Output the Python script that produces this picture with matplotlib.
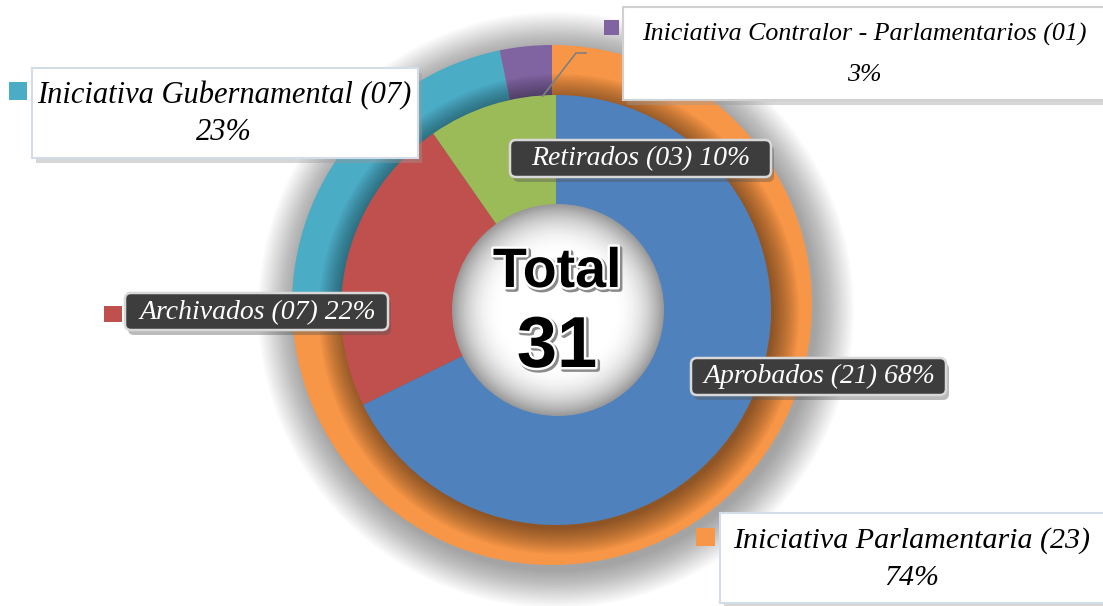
import numpy as np
import matplotlib
matplotlib.use("Agg")
import matplotlib.pyplot as plt
import matplotlib.patheffects as pe
from matplotlib.patches import Circle, Rectangle, FancyBboxPatch

W, H = 1103, 606

# anillo exterior: origen de la iniciativa
origen = ["Iniciativa Parlamentaria", "Iniciativa Gubernamental",
          "Iniciativa Contralor - Parlamentarios"]
origen_n = [23, 7, 1]
origen_pct = [74, 23, 3]
origen_col = ["#F79646", "#4BACC6", "#8064A2"]

# anillo interior: estado
estado = ["Aprobados", "Archivados", "Retirados"]
estado_n = [21, 7, 3]
estado_pct = [68, 22, 10]
estado_col = ["#4F81BD", "#C0504D", "#9BBB59"]

total = sum(estado_n)


def Y(y):
    # coordenadas de pixel (origen arriba) -> datos
    return H - y


fig = plt.figure(figsize=(W / 100, H / 100), dpi=100)
ax = fig.add_axes([0, 0, 1, 1])

c_out = (552, Y(305))
c_in = (556, Y(310))
r_out, r_in, r_hole = 260, 215, 106

# sombra difusa alrededor del anillo exterior
for r in np.linspace(298, 261, 25):
    ax.add_patch(Circle((c_out[0] + 4, c_out[1] - 5), r, color="k",
                        alpha=0.016, lw=0, zorder=1))

wedges_out, _ = ax.pie(origen_n, colors=origen_col, startangle=90,
                       counterclock=False, radius=r_out, center=c_out,
                       wedgeprops=dict(width=70, linewidth=0),
                       frame=True)
for w in wedges_out:
    w.set_zorder(2)

# sombra del anillo interior sobre el exterior
for r in np.linspace(240, 215, 14):
    ax.add_patch(Circle((c_in[0] + 3, c_in[1] - 4), r, color="k",
                        alpha=0.035, lw=0, zorder=3))

wedges_in, _ = ax.pie(estado_n, colors=estado_col, startangle=90,
                      counterclock=False, radius=r_in, center=c_in,
                      wedgeprops=dict(width=r_in - r_hole + 5, linewidth=0),
                      frame=True)
for w in wedges_in:
    w.set_zorder(4)

# hueco central con degradado
steps = 40
for i, r in enumerate(np.linspace(r_hole, 55, steps)):
    t = i / (steps - 1)
    g = 1 - 0.4 * (1 - t) ** 2.2
    ax.add_patch(Circle((558, Y(310)), r, color=(g, g, g), lw=0, zorder=5))

total_fx = [pe.Stroke(offset=(1.5, -1.5), linewidth=4, foreground="#8a8a8a"),
            pe.Stroke(linewidth=3.5, foreground="white"), pe.Normal()]
ax.text(557, Y(287), "Total", fontsize=40, weight="bold",
        family="Liberation Sans", ha="center", va="baseline", zorder=6,
        path_effects=total_fx)
ax.text(557, Y(367), str(total), fontsize=52, weight="bold",
        family="Liberation Sans", ha="center", va="baseline", zorder=6,
        path_effects=total_fx)

# linea guia de la porcion morada
frac = np.cumsum(origen_n) / total
mid = 90 - 360 * (frac[1] + frac[2]) / 2
r_lead = r_out - 50
x0 = c_out[0] + r_lead * np.cos(np.radians(mid)) + 12
y0 = c_out[1] + r_lead * np.sin(np.radians(mid))
ax.plot([x0, 576, 586], [y0, Y(53), Y(53)], color="#7f7f7f", lw=1.2,
        zorder=6)

serif = "Liberation Serif"


def caja_ext(x0, y0, x1, y1, ec):
    ax.add_patch(Rectangle((x0 + 4, Y(y1) - 5), x1 - x0, y1 - y0,
                           color="#9a9a9a", alpha=0.4, lw=0, zorder=7))
    ax.add_patch(Rectangle((x0, Y(y1)), x1 - x0, y1 - y0, fc="white",
                           ec=ec, lw=1.5, zorder=8))


def marca(x0, y0, x1, y1, col):
    ax.add_patch(Rectangle((x0, Y(y1)), x1 - x0, y1 - y0, color=col,
                           lw=0, zorder=8))


# etiquetas del anillo exterior
ext = [
    # (indice, caja, marca, centro x, base linea 1, base linea 2, tamaño, borde)
    (1, (32, 68, 418, 158), (9, 82, 27, 100), 224, 103, 140, 22, "#d3dde9"),
    (2, (623, 7, 1110, 100), (604, 20, 619, 35), 864, 41, 81, 18.6, "#d0d0d0"),
    (0, (720, 513, 1110, 603), (696, 528, 715, 546), 912, 548, 585, 21.6, "#d3dde9"),
]
for i, box, mk, cx, b1, b2, fs, ec in ext:
    caja_ext(*box, ec)
    marca(*mk, origen_col[i])
    ax.text(cx, Y(b1), f"{origen[i]} ({origen_n[i]:02d})", fontsize=fs,
            family=serif, style="italic", ha="center", va="baseline",
            zorder=9)
    ax.text(cx, Y(b2), f"{origen_pct[i]}%", fontsize=fs, family=serif,
            style="italic", ha="center", va="baseline", zorder=9)

# etiquetas del anillo interior
inn = [
    (0, (691, 358, 946, 395), 819, 383),
    (1, (125, 293, 388, 330), 258, 319),
    (2, (510, 140, 771, 177), 641, 165),
]
for i, (x0, y0, x1, y1), cx, base in inn:
    ax.add_patch(FancyBboxPatch((x0 + 3, Y(y1) - 5), x1 - x0, y1 - y0,
                                boxstyle="round,pad=0,rounding_size=6",
                                fc="#555555", alpha=0.4, lw=0, zorder=7))
    ax.add_patch(FancyBboxPatch((x0, Y(y1)), x1 - x0, y1 - y0,
                                boxstyle="round,pad=0,rounding_size=6",
                                fc="#3d3d3d", ec="#d8d8d8", lw=1.8, zorder=8))
    ax.text(cx, Y(base), f"{estado[i]} ({estado_n[i]:02d}) {estado_pct[i]}%",
            fontsize=20, family=serif, style="italic", color="white",
            ha="center", va="baseline", zorder=9)

marca(104, 306, 122, 322, estado_col[1])

ax.set_xlim(0, W)
ax.set_ylim(0, H)
ax.set_aspect("auto")
ax.axis("off")

fig.savefig("out.png", dpi=100, facecolor="white")
